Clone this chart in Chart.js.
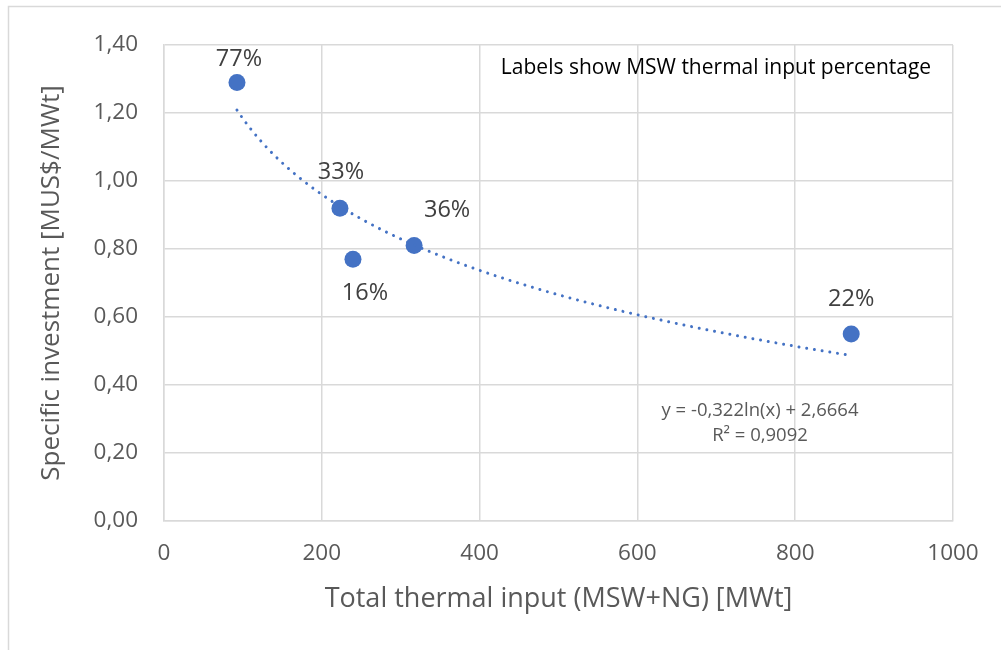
<!DOCTYPE html>
<html>
<head>
<meta charset="utf-8">
<script src="https://cdn.jsdelivr.net/npm/chart.js@4/dist/chart.umd.min.js"></script>
<style>
  html, body { margin: 0; padding: 0; background: #ffffff; }
  #wrap { width: 1001px; height: 650px; position: relative; }
</style>
</head>
<body>
<div id="wrap"><canvas id="chart" width="1001" height="650"></canvas></div>
<script>
// Plant data: total thermal input (MWt), specific investment (MUS$/MWt), MSW share of input
const thermalInput = [92.5, 223, 239.5, 317, 871];
const specificInvestment = [1.29, 0.92, 0.77, 0.81, 0.55];
const mswShare = ['77%', '33%', '16%', '36%', '22%'];

// Logarithmic trendline coefficients: y = a*ln(x) + b
const trendA = -0.322;
const trendB = 2.6664;
const trendR2 = '0,9092';

const xTicks = [0, 200, 400, 600, 800, 1000];
const yTicks = [0, 0.2, 0.4, 0.6, 0.8, 1.0, 1.2, 1.4];

// Trendline points across the data range
const xMin = Math.min(...thermalInput);
const xMax = Math.max(...thermalInput);
const trendPoints = [];
for (let i = 0; i <= 120; i++) {
  const x = xMin + (xMax - xMin) * i / 120;
  trendPoints.push({ x: x, y: trendA * Math.log(x) + trendB });
}

const blue = '#4472C4';
const fontFamily = '"Open Sans", Lato, sans-serif';
const fmtComma = (v, d) => v.toFixed(d).replace('.', ',');

// Label placement relative to each marker (dx, dy in px)
const labelPlacement = [[2, -23], [1, -36], [12, 34], [33, -35], [0, -35]];

const framePlugin = {
  id: 'frame',
  beforeDraw(chart) {
    const ctx = chart.ctx;
    ctx.save();
    ctx.fillStyle = '#ffffff';
    ctx.fillRect(0, 0, chart.width, chart.height);
    ctx.strokeStyle = '#d9d9d9';
    ctx.lineWidth = 1.5;
    ctx.strokeRect(8.5, 6.5, 1200, 1000);
    ctx.restore();
  }
};

const annotatePlugin = {
  id: 'annotate',
  afterDatasetsDraw(chart) {
    const ctx = chart.ctx;
    const meta = chart.getDatasetMeta(1);
    ctx.save();
    ctx.fillStyle = '#404040';
    ctx.font = '23.5px ' + fontFamily;
    ctx.textAlign = 'center';
    ctx.textBaseline = 'middle';
    meta.data.forEach((pt, i) => {
      const off = labelPlacement[i];
      ctx.fillText(mswShare[i], pt.x + off[0], pt.y + off[1]);
    });

    // Note in the upper-right corner of the plot
    ctx.fillStyle = '#000000';
    ctx.font = '21px ' + fontFamily;
    ctx.fillText('Labels show MSW thermal input percentage', 716, 68);

    // Trendline equation
    ctx.fillStyle = '#595959';
    ctx.font = '18.5px ' + fontFamily;
    ctx.fillText('y = ' + fmtComma(trendA, 3) + 'ln(x) + ' + fmtComma(trendB, 4), 760, 411);
    ctx.fillText('R² = ' + trendR2, 760, 436);
    ctx.restore();
  }
};

new Chart(document.getElementById('chart'), {
  type: 'scatter',
  data: {
    datasets: [
      {
        label: 'Log. trend',
        data: trendPoints,
        showLine: true,
        borderColor: blue,
        borderWidth: 3,
        borderDash: [0.01, 7.8],
        borderCapStyle: 'round',
        pointRadius: 0,
        pointHoverRadius: 0,
        tension: 0,
        fill: false
      },
      {
        label: 'Specific investment',
        data: thermalInput.map((x, i) => ({ x: x, y: specificInvestment[i] })),
        backgroundColor: blue,
        borderColor: blue,
        pointRadius: 8.5,
        pointHoverRadius: 8.5,
        borderWidth: 0
      }
    ]
  },
  options: {
    responsive: false,
    animation: false,
    devicePixelRatio: 1,
    layout: { padding: { left: 0, top: 45, right: 48, bottom: 0 } },
    plugins: {
      legend: { display: false },
      tooltip: { enabled: false }
    },
    scales: {
      x: {
        type: 'linear',
        min: 0,
        max: 1000,
        afterBuildTicks: (s) => { s.ticks = xTicks.map(v => ({ value: v })); },
        afterFit: (s) => { s.height = 129; },
        grid: { color: '#d9d9d9', lineWidth: 1.5, drawTicks: false },
        border: { color: '#d9d9d9', width: 1.5 },
        ticks: {
          color: '#595959',
          font: { family: fontFamily, size: 22.5 },
          padding: 19,
          callback: (v) => String(v)
        },
        title: {
          display: true,
          text: 'Total thermal input (MSW+NG) [MWt]',
          color: '#595959',
          font: { family: fontFamily, size: 27 },
          padding: { top: 0, bottom: 34 }
        }
      },
      y: {
        type: 'linear',
        min: 0,
        max: 1.4,
        afterBuildTicks: (s) => { s.ticks = yTicks.map(v => ({ value: v })); },
        afterFit: (s) => { s.width = 164; },
        grid: { color: '#d9d9d9', lineWidth: 1.5, drawTicks: false },
        border: { color: '#d9d9d9', width: 1.5 },
        ticks: {
          color: '#595959',
          font: { family: fontFamily, size: 22.5 },
          padding: 26,
          callback: (v) => fmtComma(v, 2)
        },
        title: {
          display: true,
          text: 'Specific investment [MUS$/MWt]',
          color: '#595959',
          font: { family: fontFamily, size: 26 },
          padding: { top: 36, bottom: 0 }
        }
      }
    }
  },
  plugins: [framePlugin, annotatePlugin]
});
</script>
</body>
</html>
